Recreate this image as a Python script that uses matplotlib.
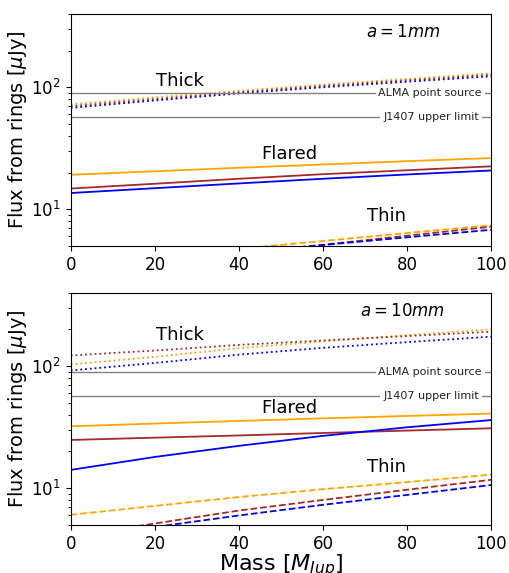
import matplotlib
matplotlib.use("Agg")
import matplotlib.pyplot as plt
import numpy as np

# planet mass grid [M_Jup]
mass = [0, 20, 40, 60, 80, 100]

# a = 1 mm  (flux in micro-Jy)
thick_1mm = {'orange': [72.6, 82.5, 93.5, 105, 117, 130],
             'brown': [70, 80, 91, 102.5, 114, 126.5],
             'blue': [67.7, 78, 89, 100, 111, 123]}
flared_1mm = {'orange': [19.2, 20.5, 21.9, 23.3, 24.8, 26.3],
              'brown': [14.8, 16.2, 17.8, 19.4, 20.9, 22.5],
              'blue': [13.6, 14.9, 16.3, 17.8, 19.3, 20.8]}
thin_1mm = {'orange': [3.55, 4.1, 4.75, 5.5, 6.4, 7.4],
            'brown': [3.1, 3.66, 4.33, 5.13, 6.08, 7.2],
            'blue': [3.33, 3.84, 4.43, 5.1, 5.9, 6.8]}

# a = 10 mm
thick_10mm = {'orange': [103, 119, 140, 159, 179, 200],
              'brown': [122, 134, 149, 162, 176, 191],
              'blue': [92, 106, 124, 141, 157, 174]}
flared_10mm = {'orange': [32.1, 33.8, 35.5, 37.3, 39.0, 40.8],
               'brown': [24.8, 25.9, 27.0, 28.3, 29.6, 30.9],
               'blue': [14.1, 18.0, 22.2, 26.8, 31.5, 36.1]}
thin_10mm = {'orange': [6.05, 7.15, 8.45, 9.8, 11.2, 12.9],
             'brown': [4.05, 5.13, 6.55, 8.0, 9.7, 11.7],
             'blue': [3.84, 4.8, 5.97, 7.3, 8.8, 10.6]}

alma_point = 89
j1407_limit = 57

panels = [
    ('$a = 1mm$', thick_1mm, flared_1mm, thin_1mm,
     [(26, 112), (52, 28.2), (75, 8.9)]),
    ('$a = 10mm$', thick_10mm, flared_10mm, thin_10mm,
     [(26, 179), (52, 45), (75, 14.8)]),
]

fig, axes = plt.subplots(2, 1, figsize=(5.09, 5.73), dpi=100)
fig.subplots_adjust(left=0.139, right=0.965, top=0.976, bottom=0.084,
                    hspace=0.2)

for ax, (title, thick, flared, thin, lab_pos) in zip(axes, panels):
    for c in ['orange', 'brown', 'blue']:
        ax.plot(mass, thick[c], ':', color=c, lw=1.3)
        ax.plot(mass, flared[c], '-', color=c, lw=1.3)
        ax.plot(mass, thin[c], '--', color=c, lw=1.3)

    ax.axhline(alma_point, color='gray', lw=1)
    ax.axhline(j1407_limit, color='gray', lw=1)
    ax.text(85.5, alma_point, 'ALMA point source', ha='center', va='center',
            fontsize=8, color='#222222',
            bbox=dict(facecolor='white', edgecolor='none', pad=2))
    ax.text(85.7, j1407_limit, 'J1407 upper limit', ha='center', va='center',
            fontsize=8, color='#222222',
            bbox=dict(facecolor='white', edgecolor='none', pad=2))

    for name, (x, y) in zip(['Thick', 'Flared', 'Thin'], lab_pos):
        ax.text(x, y, name, ha='center', va='center', fontsize=13)

    ax.text(0.79, 0.92, title, transform=ax.transAxes, ha='center',
            va='center', fontsize=12)

    ax.set_yscale('log')
    ax.set_xlim(0, 100)
    ax.set_ylim(5, 400)
    ax.set_xticks([0, 20, 40, 60, 80, 100])
    ax.tick_params(labelsize=12)
    ax.set_ylabel(r'Flux from rings [$\mu$Jy]', fontsize=14)
    ax.yaxis.set_label_coords(-0.10, 0.5)

axes[1].set_xlabel(r'Mass [$M_{Jup}$]', fontsize=16, labelpad=0)

plt.savefig("out.png", dpi=100)
